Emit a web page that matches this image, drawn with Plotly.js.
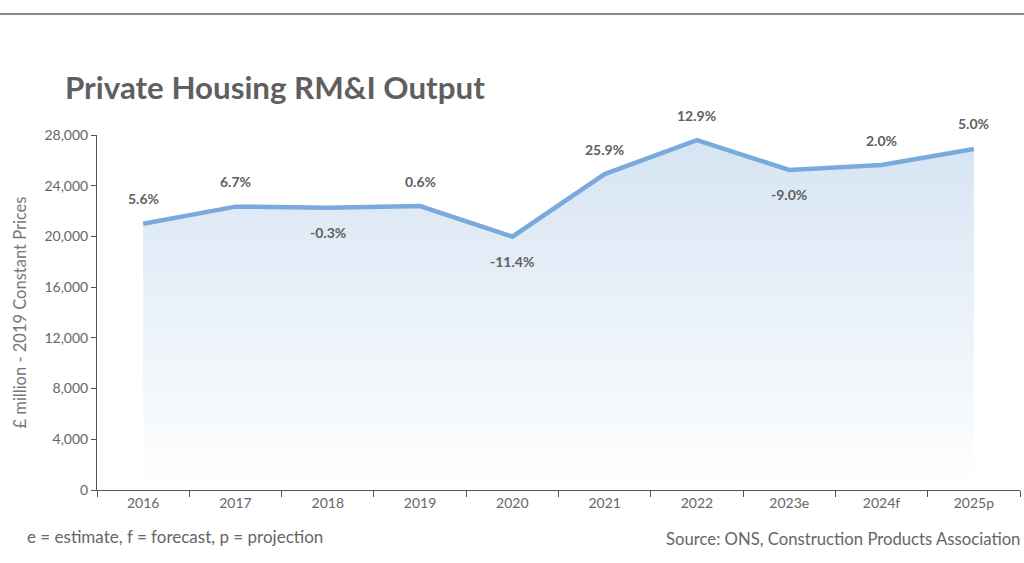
<!DOCTYPE html>
<html>
<head>
<meta charset="utf-8">
<script src="https://cdn.plot.ly/plotly-3.0.1.min.js"></script>
<style>html,body{margin:0;padding:0;background:#fff;}#chart{width:1024px;height:563px;}</style>
</head>
<body>
<div id="chart"></div>
<script>
const categories = ["2016","2017","2018","2019","2020","2021","2022","2023e","2024f","2025p"];
const output = [21000, 22350, 22270, 22400, 19980, 24920, 27600, 25240, 25630, 26900];
const growthLabels = ["5.6%","6.7%","-0.3%","0.6%","-11.4%","25.9%","12.9%","-9.0%","2.0%","5.0%"];
const labelAbove = [true, true, false, true, false, true, true, false, true, true];
const yTicks = [0, 4000, 8000, 12000, 16000, 20000, 24000, 28000];

const font = "Lato, 'Open Sans', sans-serif";
const grey = "#5f5f5f";

const trace = {
  x: categories,
  y: output,
  type: "scatter",
  mode: "lines",
  line: {color: "#7aaadc", width: 4.5},
  fill: "tozeroy",
  fillgradient: {type: "vertical", colorscale: [[0, "rgba(255,255,255,1)"], [1, "rgba(214,228,243,1)"]]},
  hoverinfo: "skip"
};

const annotations = categories.map((c, i) => ({
  x: i, y: output[i], xref: "x", yref: "y",
  text: "<b>" + growthLabels[i] + "</b>",
  showarrow: false,
  yshift: labelAbove[i] ? 25 : -25,
  font: {family: font, size: 14, color: grey}
}));
annotations.push({
  xref: "paper", yref: "paper", x: -72/923, y: -46/355, xanchor: "left", yanchor: "middle",
  text: "e = estimate, f = forecast, p = projection", showarrow: false,
  font: {family: font, size: 17, color: "#666"}
});
annotations.push({
  xref: "paper", yref: "paper", x: 1 + 2/923, y: -49/355, xanchor: "right", yanchor: "middle",
  text: "Source: ONS, Construction Products Association", showarrow: false,
  font: {family: font, size: 16.7, color: "#666"}
});

const layout = {
  width: 1024, height: 563,
  margin: {l: 97, r: 4, t: 135, b: 73},
  paper_bgcolor: "#fff", plot_bgcolor: "#fff",
  showlegend: false,
  title: {
    text: "<b>Private Housing RM&amp;I Output</b>",
    x: 65/1024, xanchor: "left", xref: "container",
    y: 1 - 88/563, yanchor: "middle", yref: "container",
    font: {family: font, size: 31.3, color: grey}
  },
  xaxis: {
    type: "category",
    tickson: "boundaries",
    ticks: "outside", ticklen: 6, tickcolor: "#555", tickwidth: 1,
    showline: true, linecolor: "#555", linewidth: 1,
    showgrid: false, zeroline: false,
    tickfont: {family: font, size: 14, color: "#666"},
    range: [-0.5, 9.5],
    fixedrange: true
  },
  yaxis: {
    range: [0, 28000],
    tickvals: yTicks,
    tickformat: ",d",
    ticks: "outside", ticklen: 5, tickcolor: "#555",
    showline: true, linecolor: "#555", linewidth: 1,
    showgrid: false, zeroline: false,
    tickfont: {family: font, size: 14, color: "#666"},
    title: {text: "£ million - 2019 Constant Prices", font: {family: font, size: 16.5, color: "#777"}, standoff: 13}
  },
  shapes: [{
    type: "line", xref: "paper", yref: "paper",
    x0: -97/923, x1: 1 + 4/923, y0: 1 + (135-14)/355, y1: 1 + (135-14)/355,
    line: {color: "#888", width: 2}
  }],
  annotations: annotations
};

Plotly.newPlot("chart", [trace], layout, {displayModeBar: false, staticPlot: true});
</script>
</body>
</html>
